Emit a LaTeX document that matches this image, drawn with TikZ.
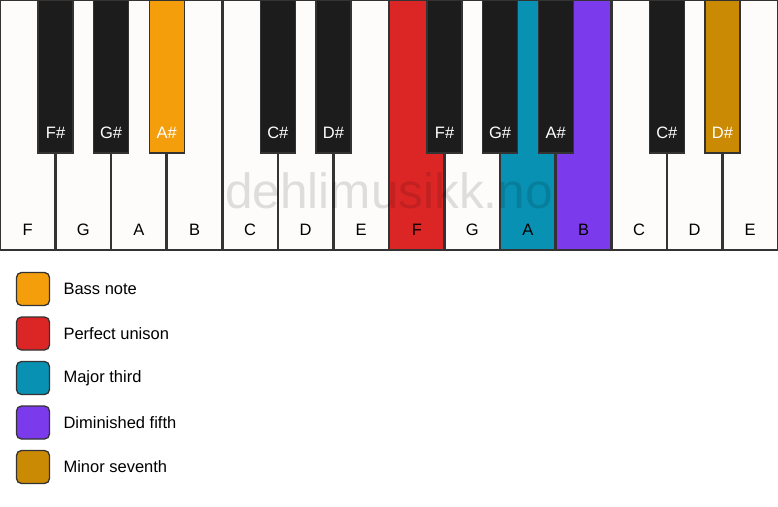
\documentclass[tikz,border=0pt]{standalone}
\usepackage{fontspec}
\setmainfont{Liberation Sans}
\definecolor{keywhite}{HTML}{FDFCFA}
\definecolor{keyblack}{HTML}{1C1C1C}
\definecolor{keyline}{HTML}{333333}
\definecolor{cbass}{HTML}{F59E0B}
\definecolor{cunison}{HTML}{DC2626}
\definecolor{cthird}{HTML}{0891B2}
\definecolor{cfifth}{HTML}{7C3AED}
\definecolor{cseventh}{HTML}{CA8A04}
\begin{document}
\begin{tikzpicture}[x=1pt,y=-1pt,
  whitekey/.style={draw=keyline,line width=1.3pt,fill=keywhite},
  blackkey/.style={draw=keyline,line width=1.3pt,fill=keyblack},
  wlabel/.style={font=\fontsize{16.5}{16.5}\selectfont,text=black,anchor=center},
  blabel/.style={font=\fontsize{16.5}{16.5}\selectfont,text=white,anchor=center},
  legbox/.style={draw=keyline,line width=1.3pt,rounded corners=5pt,minimum width=33pt,minimum height=33pt,inner sep=0pt},
  legtext/.style={font=\fontsize{16.5}{16.5}\selectfont,anchor=west},
  watermark/.style={font=\fontsize{49.5}{49.5}\selectfont,text=black,text opacity=0.12}]
\fill[white] (0,0) rectangle (778,506);
\useasboundingbox (0,0) rectangle (778,506);
\def\w{55.5714}
% white keys
\foreach \n/\lab/\col [count=\i from 0] in {wF/F/keywhite,wG/G/keywhite,wA/A/keywhite,wB/B/keywhite,wC/C/keywhite,wD/D/keywhite,wE/E/keywhite,wF2/F/cunison,wG2/G/keywhite,wA2/A/cthird,wB2/B/cfifth,wC2/C/keywhite,wD2/D/keywhite,wE2/E/keywhite}{
  \draw[whitekey,fill=\col] ({\i*\w+0.65},0.65) rectangle ({(\i+1)*\w-0.65},250);
  \node[wlabel] (\n) at ({(\i+0.5)*\w},230) {\lab};
}
% black keys
\foreach \n/\lab/\b/\col in {bFs/F\#/1/keyblack,bGs/G\#/2/keyblack,bAs/A\#/3/cbass,bCs/C\#/5/keyblack,bDs/D\#/6/keyblack,bFs2/F\#/8/keyblack,bGs2/G\#/9/keyblack,bAs2/A\#/10/keyblack,bCs2/C\#/12/keyblack,bDs2/D\#/13/cseventh}{
  \draw[blackkey,fill=\col] ({\b*\w-17.5},0) rectangle ({\b*\w+17.5},153);
  \node[blabel] (\n) at ({\b*\w},133) {\lab};
}
% watermark
\node[watermark] (wm) at (389,191) {dehlimusikk.no};
% legend
\foreach \n/\col/\txt [count=\i from 0] in {lbass/cbass/Bass note,lunison/cunison/Perfect unison,lthird/cthird/Major third,lfifth/cfifth/Diminished fifth,lseventh/cseventh/Minor seventh}{
  \node[legbox,fill=\col] (\n) at (33,{289+\i*44.5}) {};
  \node[legtext] (\n t) at (60,{289+\i*44.5}) {\txt};
}
\end{tikzpicture}
\end{document}
